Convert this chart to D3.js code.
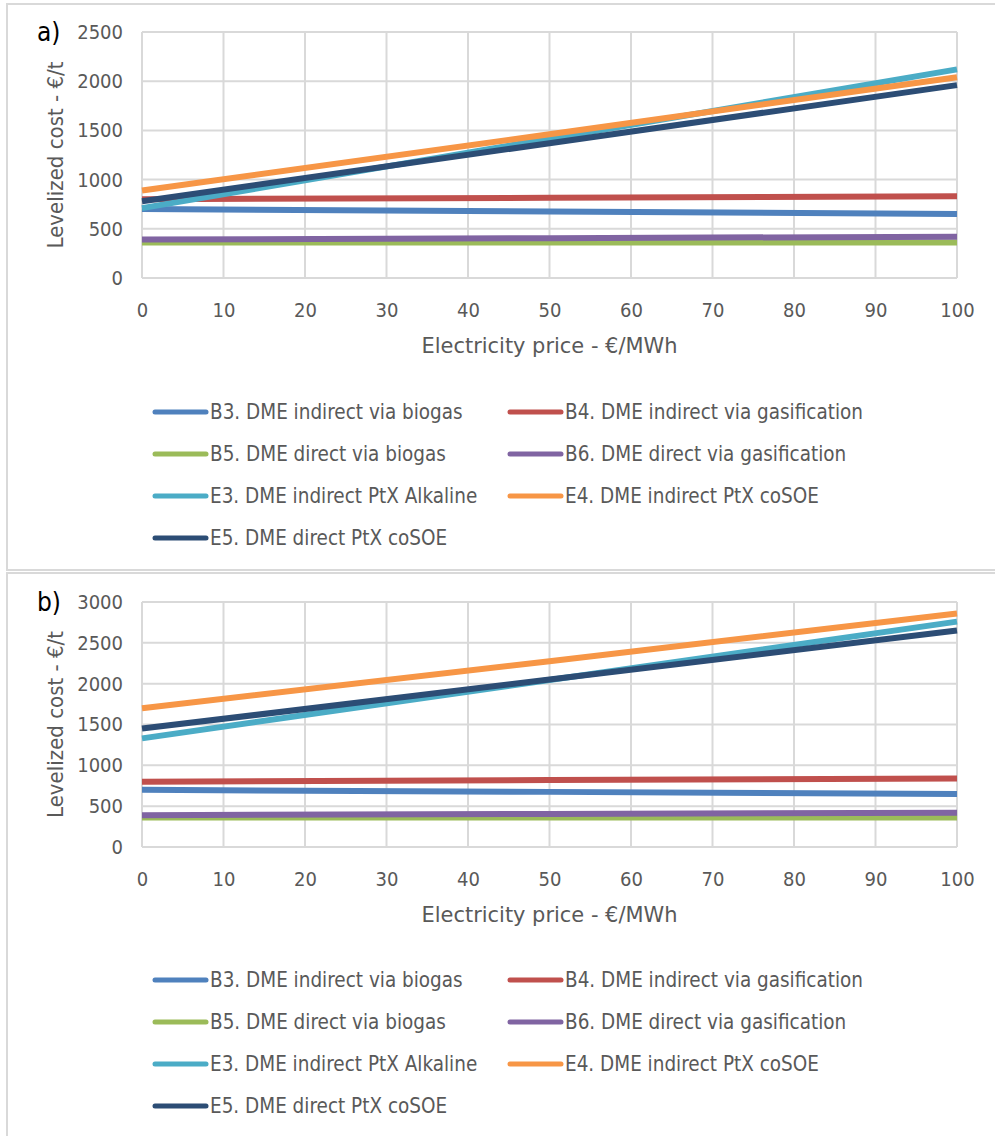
<!DOCTYPE html>
<html>
<head>
<meta charset="utf-8">
<script src="https://cdn.jsdelivr.net/npm/d3@7"></script>
<style>
  html, body { margin: 0; padding: 0; background: #ffffff; }
  svg { display: block; }
  text { font-family: "DejaVu Sans Condensed", "Open Sans", sans-serif; }
</style>
</head>
<body>
<svg id="chart" width="995" height="1136"></svg>
<script>
// Electricity price samples (€/MWh) at which the levelized costs are given
const pricePoints = [0, 50, 100];
const priceTicks = [0, 10, 20, 30, 40, 50, 60, 70, 80, 90, 100];

const seriesNames = [
  "B3. DME indirect via biogas",
  "B4. DME indirect via gasification",
  "B5. DME direct via biogas",
  "B6. DME direct via gasification",
  "E3. DME indirect PtX Alkaline",
  "E4. DME indirect PtX coSOE",
  "E5. DME direct PtX coSOE"
];
const seriesColors = ["#4f81bd", "#c0504d", "#9bbb59", "#8064a2", "#4bacc6", "#f79646", "#2c4d75"];

// Panel a) levelized cost, €/t
const costA_B3 = [700, 675, 650];
const costA_B4 = [800, 815, 830];
const costA_B5 = [360, 360, 360];
const costA_B6 = [390, 405, 420];
const costA_E3 = [710, 1415, 2120];
const costA_E4 = [890, 1460, 2040];
const costA_E5 = [780, 1370, 1960];
const ticksA = [0, 500, 1000, 1500, 2000, 2500];

// Panel b) levelized cost, €/t
const costB_B3 = [700, 675, 650];
const costB_B4 = [800, 820, 840];
const costB_B5 = [360, 360, 360];
const costB_B6 = [390, 405, 420];
const costB_E3 = [1330, 2045, 2760];
const costB_E4 = [1700, 2275, 2860];
const costB_E5 = [1450, 2050, 2650];
const ticksB = [0, 500, 1000, 1500, 2000, 2500, 3000];

const svg = d3.select("#chart");
const GRID = "#d9d9d9";
const TEXT = "#595959";

// Chart frames
svg.append("rect").attr("x", 7).attr("y", 4).attr("width", 1000).attr("height", 566)
  .attr("fill", "none").attr("stroke", GRID).attr("stroke-width", 2);
svg.append("rect").attr("x", 7).attr("y", 573).attr("width", 1000).attr("height", 600)
  .attr("fill", "none").attr("stroke", GRID).attr("stroke-width", 2);

function drawPanel(opt) {
  const g = svg.append("g");
  const x = d3.scaleLinear().domain([0, 100]).range([142, 957]);
  const y = d3.scaleLinear().domain([0, opt.yMax]).range([opt.bottom, opt.top]);

  // Gridlines
  g.append("g").selectAll("line").data(opt.yTicks).join("line")
    .attr("x1", x(0)).attr("x2", x(100))
    .attr("y1", d => y(d)).attr("y2", d => y(d))
    .attr("stroke", GRID).attr("stroke-width", 2);
  g.append("g").selectAll("line").data(priceTicks).join("line")
    .attr("x1", d => x(d)).attr("x2", d => x(d))
    .attr("y1", y(0)).attr("y2", y(opt.yMax))
    .attr("stroke", GRID).attr("stroke-width", 2);

  // Axes (labels only; domain and ticks hidden)
  const yAxis = g.append("g").attr("transform", `translate(${x(0)},0)`)
    .call(d3.axisLeft(y).tickValues(opt.yTicks).tickSize(0).tickPadding(19).tickFormat(d3.format("d")));
  const xAxis = g.append("g").attr("transform", `translate(0,${y(0)})`)
    .call(d3.axisBottom(x).tickValues(priceTicks).tickSize(0).tickPadding(25).tickFormat(d3.format("d")));
  [yAxis, xAxis].forEach(a => {
    a.select(".domain").remove();
    a.selectAll("text").attr("fill", TEXT).style("font-size", "20px")
      .style("font-family", '"DejaVu Sans Condensed", sans-serif');
  });

  // Axis titles
  g.append("text")
    .attr("transform", `translate(63,${(y(0) + y(opt.yMax)) / 2}) rotate(-90)`)
    .attr("text-anchor", "middle").attr("fill", TEXT).style("font-size", "22px")
    .text("Levelized cost - €/t");
  g.append("text")
    .attr("x", (x(0) + x(100)) / 2).attr("y", y(0) + 75)
    .attr("text-anchor", "middle").attr("fill", TEXT).style("font-size", "22px")
    .attr("textLength", 256).attr("lengthAdjust", "spacingAndGlyphs")
    .text("Electricity price - €/MWh");

  // Panel letter
  g.append("text").attr("x", 37).attr("y", opt.top + 9)
    .attr("fill", "#000000").style("font-size", "26px").text(opt.letter);

  // Series lines
  const line = d3.line().x((d, i) => x(pricePoints[i])).y(d => y(d));
  opt.series.forEach((vals, i) => {
    g.append("path").datum(vals)
      .attr("d", line).attr("fill", "none")
      .attr("stroke", seriesColors[i]).attr("stroke-width", 6);
  });

  // Legend
  const colX = [153, 508];
  seriesNames.forEach((name, i) => {
    const cx = colX[i % 2];
    const cy = opt.legendTop + Math.floor(i / 2) * 42;
    g.append("line").attr("x1", cx + 2).attr("x2", cx + 53)
      .attr("y1", cy).attr("y2", cy)
      .attr("stroke", seriesColors[i]).attr("stroke-width", 5).attr("stroke-linecap", "round");
    const t = g.append("text").attr("x", cx + 57).attr("y", cy).attr("dy", "0.35em")
      .attr("fill", TEXT).style("font-size", "21px").text(name);
    // slightly condense the label to the narrower legend face
    const w = t.node().getComputedTextLength();
    t.attr("textLength", w * 0.975).attr("lengthAdjust", "spacingAndGlyphs");
  });
}

drawPanel({
  letter: "a)", yMax: 2500, top: 32, bottom: 278, yTicks: ticksA, legendTop: 412,
  series: [costA_B3, costA_B4, costA_B5, costA_B6, costA_E3, costA_E4, costA_E5]
});
drawPanel({
  letter: "b)", yMax: 3000, top: 602, bottom: 847, yTicks: ticksB, legendTop: 980,
  series: [costB_B3, costB_B4, costB_B5, costB_B6, costB_E3, costB_E4, costB_E5]
});
</script>
</body>
</html>
